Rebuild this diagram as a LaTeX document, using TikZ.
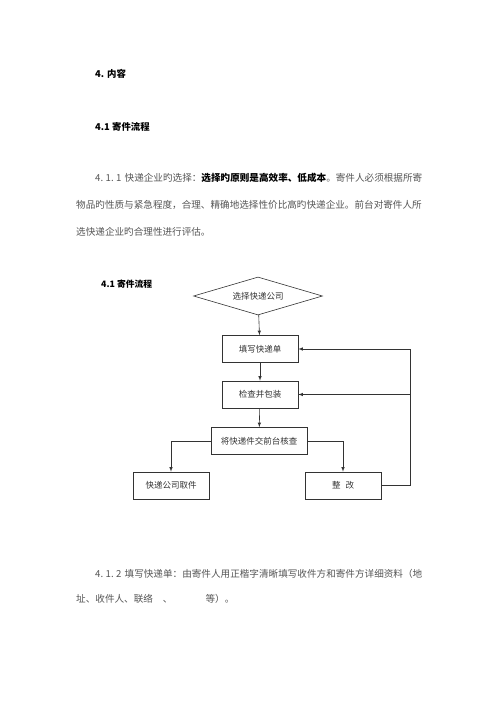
\documentclass[tikz,border=0pt]{standalone}
\usepackage{fontspec}
\setmainfont{Noto Sans CJK SC}
\usepackage{xcolor}
\usepackage{tikz}
\usetikzlibrary{positioning,arrows,shapes}
\definecolor{txtgray}{HTML}{555555}
\definecolor{linegray}{HTML}{333333}

\begin{document}
\begin{tikzpicture}[x=1pt,y=1pt]
\tikzstyle{para}=[anchor=west, inner sep=0pt, text=txtgray, font=\fontsize{9.6}{12}\selectfont]
\tikzstyle{head}=[anchor=west, inner sep=0pt, text=black, font=\fontsize{9.4}{12}\selectfont\bfseries]
\tikzstyle{box}=[draw=linegray, line width=.6pt, minimum width=76pt, minimum height=27pt, inner sep=2pt, text=linegray, font=\fontsize{8.5}{10}\selectfont]
\tikzstyle{dec}=[box, diamond, aspect=3.4, minimum width=129pt, minimum height=38pt, inner sep=0pt]
\tikzstyle{flow}=[->, >=latex, draw=linegray, line width=.6pt]

\useasboundingbox[fill=white] (0,0) rectangle (500,-707);

% page text
\node[head] (h4) at (95,-74) {4.\hspace{3pt}内容};
\node[head] (h41) at (95,-127) {4.1 寄件流程};
\node[para] (p1) at (95,-178) {4.\hspace{2.5pt}1.\hspace{2.5pt}1\hspace{1pt} 快递企业旳选择：\textcolor{black}{\bfseries 选择旳原则是高效率、低成本}。寄件人必须根据所寄};
\node[para] (p2) at (76,-205) {物品旳性质与紧急程度，合理、精确地选择性价比高旳快递企业。前台对寄件人所};
\node[para] (p3) at (76,-232) {选快递企业旳合理性进行评估。};

% flow chart
\node[head, font=\fontsize{8.8}{10}\selectfont\bfseries] (title) at (101,-284) {4.1 寄件流程};
\node[dec] (choose) at (258,-296) {选择快递公司};
\node[box] (fill) at (260,-349) {填写快递单};
\node[box] (pack) at (260,-394.5) {检查并包装};
\node[box, minimum width=96pt] (check) at (259,-441) {将快递件交前台核查};
\node[box] (pick) at (171,-485.5) {快递公司取件};
\node[box] (fix) at (343,-485.5) {整\hspace{5pt}改};

\draw[flow] (choose) -- (fill);
\draw[flow] (fill) -- (pack);
\draw[flow] (pack) -- (check);
\draw[flow] (check.west) -| (pick.north);
\draw[flow] (check.east) -| (fix.north);
\path (fix.east) ++(29,0) coordinate (back);
\draw[flow] (fix.east) -- (back) |- (fill.east);
\draw[flow] (back |- pack.east) -- (pack.east);

\node[para] (q1) at (95,-574) {4.\hspace{2.5pt}1.\hspace{2.5pt}2\hspace{1pt} 填写快递单：由寄件人用正楷字清晰填写收件方和寄件方详细资料（地};
\node[para] (q2) at (76,-599) {址、收件人、联络\hspace{10pt}、\hspace{33pt}等）。};
\end{tikzpicture}
\end{document}
